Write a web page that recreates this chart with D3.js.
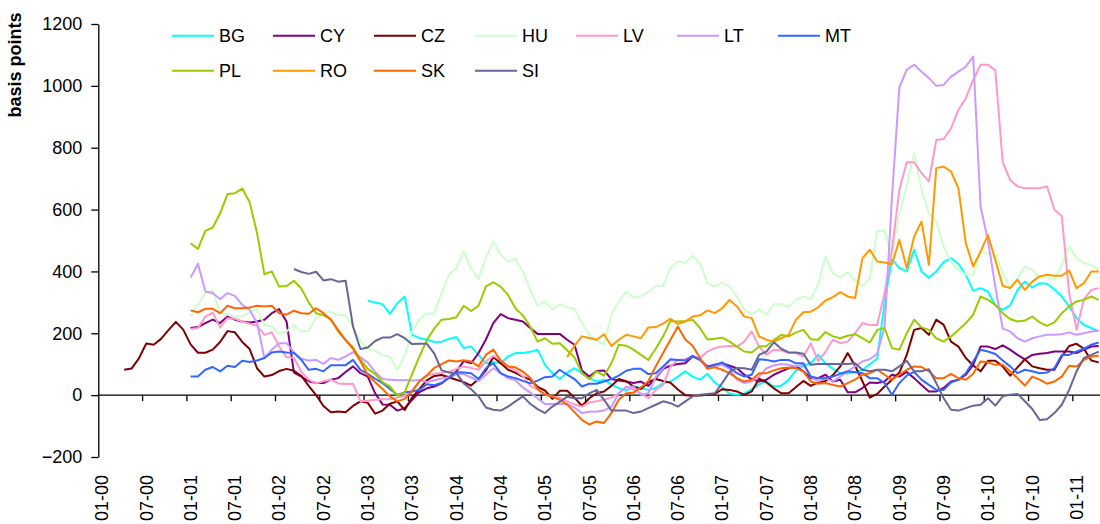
<!DOCTYPE html>
<html>
<head>
<meta charset="utf-8">
<script src="https://cdn.jsdelivr.net/npm/d3@7"></script>
<style>
  html, body { margin: 0; padding: 0; background: #fff; }
  svg { display: block; font-family: "Liberation Sans", Arial, sans-serif; }
</style>
</head>
<body>
<svg id="chart" width="1100" height="524"></svg>
<script>
// Monthly spreads in basis points, January 2000 to April 2011 (136 months).
const monthCount = 136;
const tickLabels = ["01-00","07-00","01-01","07-01","01-02","07-02","01-03","07-03","01-04","07-04",
  "01-05","07-05","01-06","07-06","01-07","07-07","01-08","07-08","01-09","07-09","01-10","07-10","01-11"];
const yTicks = [-200, 0, 200, 400, 600, 800, 1000, 1200];

const countries = ["BG","CY","CZ","HU","LV","LT","MT","PL","RO","SK","SI"];
const colors = ["#00FFFF","#800080","#800000","#CCFFCC","#FF99CC","#CC99FF","#3366FF","#99CC00","#FF9900","#FF6600","#666699"];
// index of the first month of each series (0 = Jan 2000)
const startMonth = [36, 12, 3, 12, 12, 12, 12, 12, 63, 12, 26];

const BG = [305,300,294,263,297,319,195,185,179,172,173,182,188,152,157,130,103,106,103,125,
  136,136,140,147,98,71,52,73,87,71,55,44,50,35,23,15,28,23,17,23,39,44,60,77,60,50,69,41,25,5,
  1,5,19,35,45,28,30,50,80,95,103,130,103,85,71,70,75,82,100,118,300,440,411,400,470,400,380,400,430,443,
  425,389,338,346,335,290,276,290,340,367,348,362,360,342,319,287,249,227,217,206];
const CY = [217,220,233,244,233,254,244,238,235,238,244,265,278,238,73,60,45,39,39,50,55,75,93,71,60,6,-30,-31,-50,-42,
  -15,10,22,28,38,58,77,110,103,136,180,233,262,249,244,238,217,198,198,198,198,179,163,80,60,78,80,52,47,44,
  39,44,30,55,85,95,101,103,125,114,93,98,103,95,87,66,52,44,50,66,77,87,93,77,55,55,66,44,50,9,
  9,23,41,39,44,66,60,75,55,33,12,12,23,44,50,66,98,157,157,149,161,147,130,116,130,134,136,141,141,141,
  136,147,157,159];
const CZ = [82,86,119,167,163,182,210,237,212,164,137,137,147,172,207,203,172,149,87,60,65,78,85,79,62,30,0,-35,-55,-53,
  -55,-35,-20,-25,-60,-50,-28,-20,-48,-8,20,48,62,65,58,50,42,31,52,80,123,103,82,72,60,50,27,15,-12,14,
  14,-8,-35,-10,6,12,30,52,45,28,20,42,52,46,40,18,0,-2,-1,1,4,19,17,12,1,12,53,41,22,6,
  6,26,46,30,41,46,65,93,136,95,45,-8,4,28,50,73,130,211,217,195,244,227,173,157,120,96,77,111,111,93,
  63,90,116,93,87,82,82,125,159,166,150,112,106];
const HU = [254,292,330,338,265,262,254,256,267,278,227,222,198,206,227,206,208,250,268,268,260,258,222,175,150,143,128,125,82,128,
  205,245,265,263,330,390,411,465,410,375,445,497,454,432,441,400,341,289,303,276,294,284,279,233,195,177,163,260,303,335,
  316,321,332,353,354,410,432,427,451,427,362,351,364,351,319,276,260,278,260,294,294,284,308,319,310,357,448,394,381,397,
  373,351,378,531,531,450,588,675,784,664,588,561,480,432,405,389,389,464,459,454,394,346,378,416,405,381,381,373,421,481,
  443,427,421,405];
const LV = [214,217,254,267,219,249,247,238,231,225,195,203,157,123,120,75,50,38,45,50,38,36,37,-20,-18,-15,-13,-13,-8,-2,
  15,45,64,69,72,76,85,93,88,82,109,127,114,93,80,62,30,18,2,-4,-8,-20,-30,-37,-24,-20,-15,-8,6,28,
  17,6,-10,17,33,93,114,116,125,120,141,152,157,159,157,173,206,157,130,147,144,136,136,125,168,109,141,179,168,173,
  200,233,227,227,330,470,664,753,753,718,691,825,828,863,922,960,1019,1068,1068,1050,753,696,675,669,669,669,675,600,578,330,
  211,310,340,346];
const LT = [380,425,335,330,310,330,321,292,276,233,120,147,168,168,139,118,112,114,101,120,114,125,139,122,105,75,52,50,48,49,
  47,49,42,48,54,58,68,68,57,46,66,87,70,55,48,25,8,-10,-29,-29,-29,-29,-40,-58,-54,-53,-50,-37,6,25,
  28,1,6,58,87,114,114,114,127,114,87,93,98,85,50,39,44,60,87,96,101,98,93,98,60,44,55,44,60,77,
  93,109,116,134,220,640,995,1052,1068,1046,1025,1000,1003,1030,1046,1062,1095,610,500,350,215,206,184,173,184,190,195,195,197,203,
  195,200,206,208];
const MT = [60,60,82,91,77,95,91,111,107,112,120,138,141,138,136,114,82,85,77,97,97,97,114,82,69,53,39,20,1,9,
  12,17,35,32,40,55,75,73,71,52,87,103,71,60,55,46,38,47,58,60,82,66,52,28,37,37,44,52,63,79,
  85,85,68,71,93,116,114,112,127,114,91,98,106,90,71,60,66,116,114,109,114,114,103,103,60,55,55,60,69,77,
  74,71,55,55,39,1,39,63,75,50,33,17,17,41,50,71,109,147,141,133,112,93,71,82,77,71,73,87,130,130,
  141,150,163,170];
const PL = [491,473,531,542,588,650,653,668,624,524,391,400,351,353,370,345,300,265,258,246,205,178,155,115,85,68,42,28,-2,10,
  68,125,178,215,244,246,252,289,272,289,352,365,351,324,281,258,222,173,184,166,168,145,122,71,52,77,63,103,163,160,
  147,130,114,150,190,240,238,240,244,217,180,182,186,173,157,141,138,157,159,178,195,190,203,211,181,179,204,190,184,192,
  197,184,170,211,217,152,147,200,244,219,211,184,173,190,211,233,260,319,308,292,265,246,238,241,254,235,224,235,265,287,
  303,308,319,308];
const RO = [123,160,190,185,179,197,159,179,195,190,184,219,220,231,247,230,238,254,258,274,265,281,308,287,254,249,190,179,173,184,
  195,244,268,270,284,306,317,333,319,314,443,470,432,429,423,502,411,513,561,421,734,739,723,669,491,416,464,518,437,353,
  346,373,340,367,384,389,386,386,403,346,362,400,400];
const SK = [274,268,279,279,265,289,281,281,283,289,287,289,265,260,273,265,263,281,265,244,210,178,150,110,65,42,20,-4,-20,-12,
  12,45,64,88,100,112,109,113,109,93,130,147,112,93,90,76,56,20,2,-5,-15,-30,-55,-80,-95,-85,-90,-58,-15,6,
  8,25,45,93,136,179,222,180,160,120,85,90,82,71,55,44,50,71,71,80,87,89,87,77,44,37,39,33,28,39,
  50,66,71,82,66,50,66,82,93,91,77,55,55,69,55,50,69,109,106,98,98,77,55,31,60,50,37,44,60,95,
  93,114,125,127];
const SI = [408,398,392,399,371,375,367,370,222,149,154,175,186,186,197,184,165,166,166,135,80,73,71,38,19,-4,-40,-47,-50,-37,
  -20,-4,-28,-45,-58,-37,-22,-5,-10,-10,6,17,-15,-50,-50,-50,-58,-53,-42,-31,-20,-26,-37,-20,-4,1,4,6,39,75,
  88,87,82,130,141,171,150,138,138,134,98,101,101,101,101,101,103,82,77,82,82,77,93,111,77,77,84,39,-10,-47,
  -50,-42,-34,-31,-10,-34,-4,1,4,-20,-45,-80,-78,-58,-31,17,77,120,130,141];

const seriesValues = [BG, CY, CZ, HU, LV, LT, MT, PL, RO, SK, SI];

const svg = d3.select("#chart");
const font = "\"Liberation Sans\", Arial, sans-serif";

const plotLeft = 98.3;
const monthWidth = 7.383;
const x = d3.scaleBand()
  .domain(d3.range(monthCount))
  .range([plotLeft, plotLeft + monthCount * monthWidth])
  .paddingInner(0).paddingOuter(0);
const xc = i => x(i) + x.bandwidth() / 2;

const y = d3.scaleLinear().domain([-200, 1200]).range([457, 24]);

// y axis
const yAxis = d3.axisLeft(y).tickValues(yTicks).tickSize(7).tickSizeOuter(0).tickPadding(9)
  .tickFormat(d3.format("d"));
const gy = svg.append("g").attr("transform", `translate(${plotLeft},0)`).call(yAxis);
gy.select(".domain").attr("stroke", "#000").attr("stroke-width", 1.3);
gy.selectAll(".tick line").attr("stroke", "#000").attr("stroke-width", 1.3);
gy.selectAll(".tick text").attr("font-size", 18).attr("font-family", font).attr("fill", "#000");

// x axis along the zero line
const gx = svg.append("g");
gx.append("line")
  .attr("x1", plotLeft).attr("x2", plotLeft + monthCount * monthWidth)
  .attr("y1", y(0)).attr("y2", y(0))
  .attr("stroke", "#000").attr("stroke-width", 1.3);
const tickMonths = d3.range(0, monthCount, 6);
gx.selectAll("line.xt").data(tickMonths.filter(m => m > 0)).join("line")
  .attr("class", "xt")
  .attr("x1", m => x(m)).attr("x2", m => x(m))
  .attr("y1", y(0)).attr("y2", y(0) + 6)
  .attr("stroke", "#000").attr("stroke-width", 1.3);
gx.selectAll("text").data(tickMonths).join("text")
  .attr("transform", (m) => `translate(${xc(m)},475) rotate(-90)`)
  .attr("text-anchor", "end")
  .attr("dy", "0.35em")
  .attr("font-size", 18)
  .attr("font-family", font)
  .text((m, k) => tickLabels[k]);

// axis title
svg.append("text")
  .attr("transform", "translate(21,65) rotate(-90)")
  .attr("text-anchor", "middle")
  .attr("font-size", 18)
  .attr("font-weight", "bold")
  .attr("font-family", font)
  .text("basis points");

// series lines
const line = d3.line()
  .x(d => xc(d.m))
  .y(d => y(d.v));

seriesValues.forEach((vals, s) => {
  const pts = vals.map((v, k) => ({ m: startMonth[s] + k, v }));
  svg.append("path")
    .datum(pts)
    .attr("fill", "none")
    .attr("stroke", colors[s])
    .attr("stroke-width", 2)
    .attr("stroke-linejoin", "round")
    .attr("d", line);
});

// legend: seven entries on the first row, four on the second
const legend = svg.append("g");
countries.forEach((name, s) => {
  const col = s < 7 ? s : s - 7;
  const rowY = s < 7 ? 35.7 : 70.7;
  const lx = 172 + col * 101;
  legend.append("line")
    .attr("x1", lx).attr("x2", lx + 42)
    .attr("y1", rowY).attr("y2", rowY)
    .attr("stroke", colors[s]).attr("stroke-width", 2);
  legend.append("text")
    .attr("x", lx + 47).attr("y", rowY + 6.2)
    .attr("font-size", 18)
    .attr("font-family", font)
    .text(name);
});
</script>
</body>
</html>
